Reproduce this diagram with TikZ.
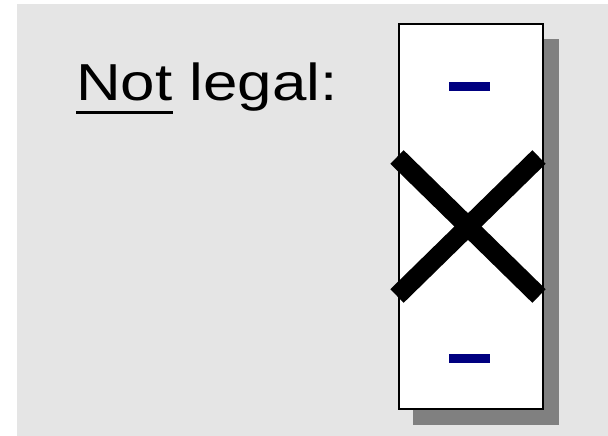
\documentclass[tikz,border=0pt]{standalone}
\usepackage{fontspec}
\setmainfont{Liberation Sans}
\usetikzlibrary{positioning, calc}
\definecolor{slidegray}{RGB}{229,229,229}
\definecolor{shadowgray}{RGB}{128,128,128}
\definecolor{dashblue}{RGB}{0,0,128}
\newcommand{\ulword}[1]{\setbox0\hbox{#1}\rlap{\rule[-14pt]{\wd0}{3.5pt}}#1}

\begin{document}
\begin{tikzpicture}[x=1pt, y=-1pt,
  stripbox/.style={draw=black, line width=2pt, fill=white, minimum width=144pt, minimum height=385pt, inner sep=0pt},
  shadowbox/.style={fill=shadowgray, minimum width=146pt, minimum height=386pt, inner sep=0pt},
  minusbar/.style={fill=dashblue, minimum width=41pt, minimum height=8.7pt, inner sep=0pt},
  crossline/.style={line width=19pt, line cap=butt}]
  \useasboundingbox (0,0) rectangle (608,436);
  % Background
  \fill[slidegray] (17,4) rectangle (608,436);
  % Shadow and strip
  \node[shadowbox] (SHADOW) at (486,232) {};
  \node[stripbox] (STRIP) at (471,216.5) {};
  % Minus signs
  \node[minusbar] (TOPMINUS) at (469.5,86.5) {};
  \node[minusbar] (BOTMINUS) at (469.5,358.5) {};
  % Cross
  \coordinate (XTL) at (397,157);
  \coordinate (XTR) at (539,157);
  \coordinate (XBL) at (397,296);
  \coordinate (XBR) at (539,296);
  \draw[crossline] (XTL) -- (XBR);
  \draw[crossline] (XBL) -- (XTR);
  % Label
  \node[anchor=base west, inner sep=0pt, xscale=1.19, font=\fontsize{52}{52}\selectfont] (LABEL) at (76,100) {\ulword{Not} legal:};
\end{tikzpicture}
\end{document}
